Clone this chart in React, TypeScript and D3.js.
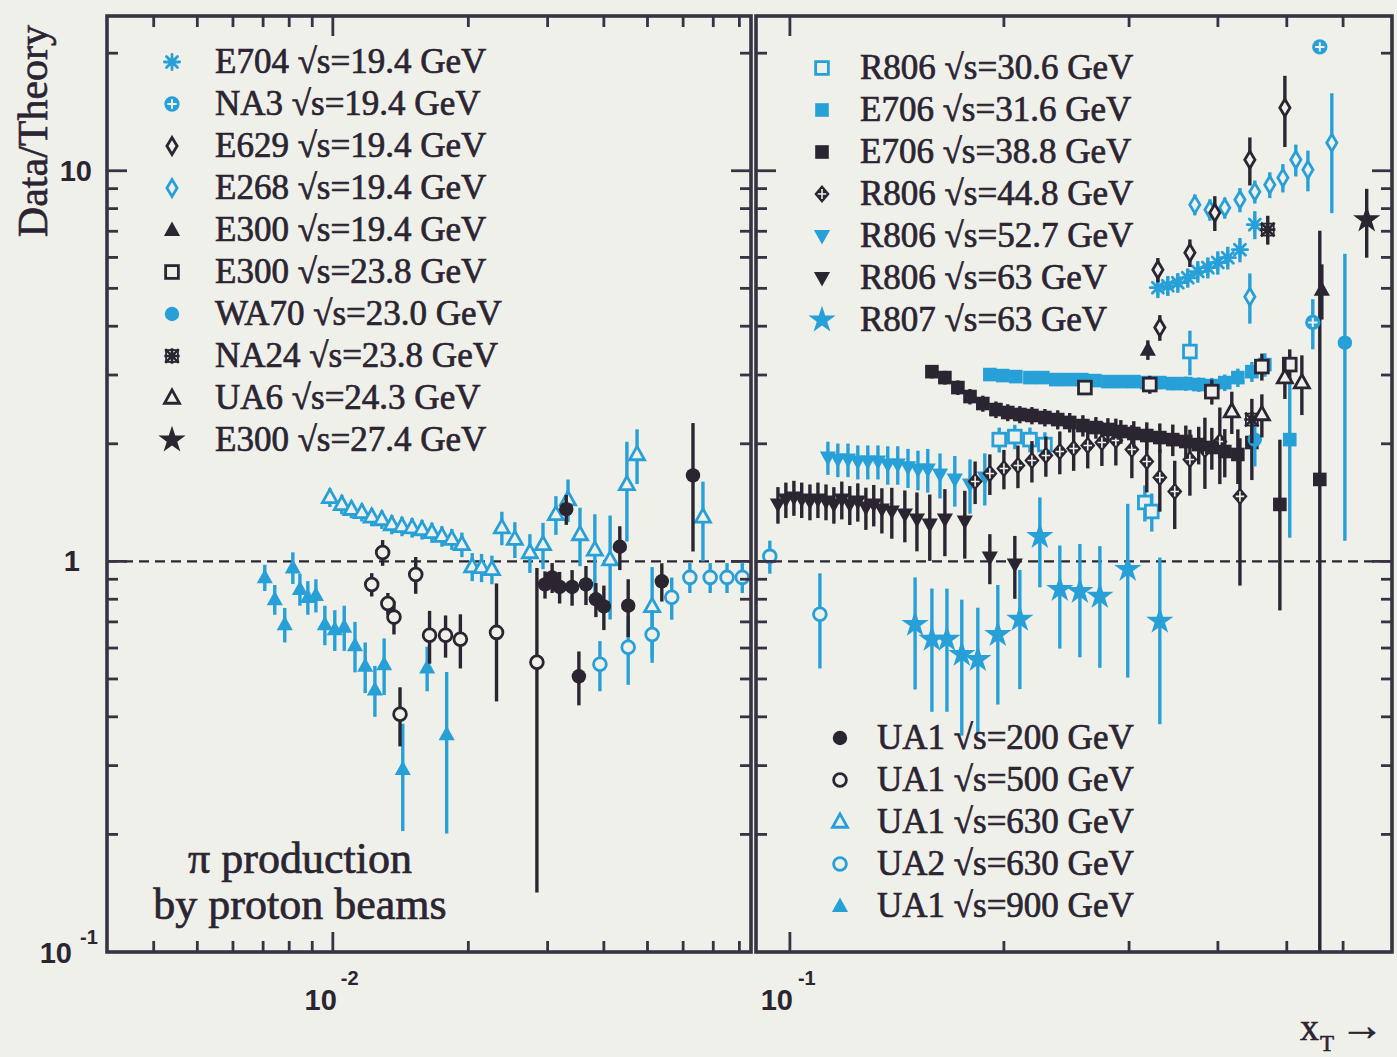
import React from "react";
import * as d3 from "d3";

const CYAN = "#27a0d8";
const DARK = "#2b2532";
const FRAME = "#383243";
const BG = "#f0f0ea";
const SERIF = "'Liberation Serif', 'DejaVu Serif', serif";
const SANS = "'Liberation Sans', Arial, sans-serif";

// Each point: [x_T, Data/Theory, ± error]
const ua1_900 = [[0.00706,0.91,0.07],[0.00743,0.8,0.07],[0.00782,0.69,0.07],[0.00815,0.965,0.09],[0.00845,0.85,0.08],[0.0088,0.81,0.08],[0.00917,0.82,0.08],[0.0096,0.69,0.08],[0.0101,0.67,0.08],[0.0106,0.68,0.09],[0.0112,0.61,0.09],[0.0118,0.54,0.08],[0.0124,0.47,0.07],[0.013,0.545,0.09],[0.0143,0.294,0.09],[0.0162,0.535,0.07],[0.0179,0.361,0.16]];
const ua1_630 = [[0.00985,1.458,0.08],[0.01047,1.4,0.08],[0.011,1.36,0.07],[0.0116,1.335,0.07],[0.0122,1.3,0.07],[0.01285,1.28,0.07],[0.01352,1.243,0.07],[0.01424,1.23,0.07],[0.015,1.22,0.07],[0.01578,1.207,0.07],[0.0166,1.186,0.07],[0.01747,1.16,0.07],[0.01838,1.14,0.07],[0.01935,1.105,0.08],[0.0204,0.97,0.08],[0.0214,0.965,0.08],[0.02256,0.954,0.08],[0.02374,1.22,0.12],[0.02537,1.14,0.12],[0.0274,1.054,0.12],[0.0293,1.105,0.15],[0.0313,1.319,0.15],[0.0333,1.44,0.18],[0.0354,1.172,0.2],[0.0382,1.07,0.25],[0.0413,1.01,0.3],[0.045,1.574,0.45],[0.0474,1.878,0.3],[0.0512,0.767,0.2],[0.0664,1.3,0.3]];
const ua2_630 = [[0.0392,0.545,0.08],[0.0453,0.603,0.12],[0.0512,0.65,0.1],[0.0566,0.809,0.1],[0.0621,0.91,0.08],[0.0689,0.91,0.08],[0.0751,0.91,0.08],[0.0812,0.91,0.08],[0.0937,1.03,0.1],[0.1102,0.732,0.2]];
const ua1_500 = [[0.0122,0.873,0.06],[0.0129,1.054,0.08],[0.01325,0.78,0.05],[0.01367,0.72,0.07],[0.0141,0.406,0.07],[0.01528,0.926,0.1],[0.0164,0.647,0.1],[0.0178,0.647,0.08],[0.0192,0.632,0.1],[0.0231,0.658,0.22],[0.0284,0.552,0.41]];
const ua1_200 = [[0.0296,0.873,0.07],[0.0307,0.91,0.08],[0.0319,0.86,0.08],[0.033,1.36,0.12],[0.034,0.86,0.09],[0.0352,0.508,0.08],[0.0365,0.873,0.1],[0.0384,0.8,0.08],[0.04,0.767,0.1],[0.0434,1.09,0.14],[0.0453,0.77,0.13],[0.0538,0.889,0.1],[0.0631,1.66,0.6]];

const r806_63 = [[0.0962,1.399,0.15],[0.0987,1.441,0.15],[0.1013,1.458,0.15],[0.1039,1.441,0.15],[0.1067,1.424,0.15],[0.1095,1.441,0.15],[0.1124,1.424,0.15],[0.1153,1.399,0.15],[0.1183,1.441,0.16],[0.1214,1.399,0.16],[0.1246,1.424,0.16],[0.1279,1.374,0.17],[0.1312,1.399,0.17],[0.1347,1.359,0.18],[0.1391,1.343,0.2],[0.1451,1.319,0.2],[0.1509,1.281,0.22],[0.1573,1.243,0.24],[0.1652,1.281,0.25],[0.1762,1.266,0.25],[0.1911,1.024,0.15],[0.2072,0.982,0.18]];
const r806_527 = [[0.1131,1.845,0.18],[0.1168,1.823,0.18],[0.1207,1.823,0.18],[0.1246,1.801,0.18],[0.1287,1.801,0.18],[0.133,1.801,0.18],[0.1373,1.771,0.2],[0.1418,1.771,0.2],[0.1466,1.741,0.2],[0.1514,1.72,0.2],[0.1563,1.72,0.22],[0.1626,1.669,0.22],[0.1706,1.621,0.24],[0.1792,1.574,0.25],[0.188,1.64,0.25]];
const r807_63 = [[0.15,0.69,0.22],[0.1584,0.632,0.22],[0.1663,0.632,0.22],[0.1745,0.578,0.22],[0.1838,0.561,0.2],[0.1961,0.65,0.22],[0.2106,0.711,0.24],[0.2247,1.158,0.3],[0.2397,0.848,0.25],[0.2558,0.838,0.27],[0.2729,0.814,0.28],[0.2987,0.954,0.45],[0.3314,0.703,0.32]];
const r806_448 = [[0.1822,1.602,0.2],[0.1911,1.679,0.2],[0.2,1.729,0.2],[0.2093,1.76,0.22],[0.219,1.812,0.22],[0.2291,1.867,0.22],[0.2397,1.911,0.24],[0.2507,1.945,0.24],[0.2624,1.98,0.25],[0.2747,2.015,0.26],[0.2874,2.04,0.28],[0.3027,1.933,0.3],[0.3177,1.802,0.3],[0.3314,1.64,0.3],[0.3478,1.51,0.3],[0.3653,1.823,0.35],[0.3835,1.933,0.4],[0.4025,2.027,0.45],[0.4296,1.467,0.6]];
const e706_388 = [[0.1584,3.06,0.12],[0.1652,2.955,0.12],[0.1723,2.786,0.12],[0.1792,2.642,0.12],[0.1868,2.536,0.12],[0.1949,2.447,0.12],[0.2025,2.405,0.12],[0.2106,2.377,0.12],[0.219,2.363,0.12],[0.2284,2.335,0.12],[0.2381,2.307,0.13],[0.2475,2.268,0.13],[0.2583,2.227,0.14],[0.2694,2.201,0.14],[0.2801,2.176,0.15],[0.2921,2.15,0.15],[0.3046,2.125,0.16],[0.3177,2.1,0.17],[0.3314,2.075,0.18],[0.3456,2.05,0.19],[0.3605,2.027,0.2],[0.3759,1.991,0.22],[0.3922,1.957,0.24],[0.409,1.911,0.27],[0.4267,1.878,0.3],[0.4465,2.015,0.4],[0.4889,1.399,0.65],[0.5564,1.621,5.4]];
const e706_316 = [[0.1911,3.008,0.1],[0.1993,2.99,0.1],[0.2079,2.972,0.1],[0.2176,2.955,0.1],[0.2269,2.955,0.1],[0.2366,2.92,0.1],[0.2468,2.92,0.1],[0.2574,2.92,0.1],[0.2685,2.903,0.1],[0.2801,2.886,0.1],[0.2921,2.886,0.1],[0.3046,2.886,0.1],[0.3177,2.869,0.1],[0.3314,2.869,0.11],[0.3456,2.852,0.11],[0.3605,2.852,0.12],[0.3759,2.836,0.12],[0.3922,2.819,0.13],[0.409,2.869,0.14],[0.4267,2.955,0.16],[0.4465,3.06,0.18],[0.4657,3.19,0.22],[0.5048,2.05,0.9]];
const r806_306 = [[0.197,2.05,0.15],[0.2072,2.087,0.15],[0.2176,2.05,0.15],[0.2284,1.991,0.15],[0.3157,1.415,0.15],[0.3229,1.342,0.15],[0.3653,3.445,0.45]];
const e629 = [[0.3293,5.58,0.4],[0.3314,3.97,0.3],[0.3653,6.17,0.5],[0.396,7.81,0.8],[0.4436,10.67,1.5],[0.4969,14.5,3]];
const e268 = [[0.3712,8.19,0.5],[0.3898,7.95,0.5],[0.409,8.04,0.5],[0.4296,8.43,0.6],[0.4508,8.84,0.6],[0.4732,9.21,0.7],[0.4937,9.6,0.8],[0.5148,10.67,1.0],[0.5354,10.06,1.2],[0.5785,11.79,4],[0.4436,4.76,0.7]];
const e704 = [[0.3293,5.02,0.3],[0.3401,5.08,0.3],[0.3513,5.17,0.3],[0.3628,5.32,0.3],[0.3748,5.52,0.35],[0.3872,5.65,0.35],[0.3999,5.82,0.4],[0.413,5.99,0.4],[0.4296,6.28,0.45],[0.4508,7.28,0.6]];
const na3 = [[0.5564,20.75,0.8],[0.5439,4.09,0.6]];
const e300_194 = [[0.3188,3.48,0.2],[0.5601,4.96,0.8]];
const e300_238 = [[0.26,2.786,0.12],[0.3208,2.836,0.15],[0.3922,2.72,0.2],[0.4612,3.153,0.25],[0.5048,3.19,0.3]];
const wa70 = [[0.4508,2.05,0.3],[0.6035,3.63,2.5]];
const na24 = [[0.4701,7.07,0.6],[0.4465,2.307,0.3]];
const ua6 = [[0.4184,2.419,0.3],[0.4612,2.377,0.3],[0.4969,2.955,0.35],[0.525,2.869,0.5]];
const e300_274 = [[0.6477,7.49,1.5]];

const SERIES = {
  e704: { label: "E704 √s=19.4 GeV", color: CYAN, marker: "asterisk", data: e704 },
  na3: { label: "NA3 √s=19.4 GeV", color: CYAN, marker: "circlePlus", data: na3 },
  e629: { label: "E629 √s=19.4 GeV", color: DARK, marker: "diamondOpen", data: e629 },
  e268: { label: "E268 √s=19.4 GeV", color: CYAN, marker: "diamondOpen", data: e268 },
  e300_194: { label: "E300 √s=19.4 GeV", color: DARK, marker: "triUp", data: e300_194 },
  e300_238: { label: "E300 √s=23.8 GeV", color: DARK, marker: "squareOpen", data: e300_238 },
  wa70: { label: "WA70 √s=23.0 GeV", color: CYAN, marker: "circle", data: wa70 },
  na24: { label: "NA24 √s=23.8 GeV", color: DARK, marker: "asteriskBox", data: na24 },
  ua6: { label: "UA6 √s=24.3 GeV", color: DARK, marker: "triUpOpen", data: ua6 },
  e300_274: { label: "E300 √s=27.4 GeV", color: DARK, marker: "star", data: e300_274 },
  r806_306: { label: "R806 √s=30.6 GeV", color: CYAN, marker: "squareOpen", data: r806_306 },
  e706_316: { label: "E706 √s=31.6 GeV", color: CYAN, marker: "square", data: e706_316 },
  e706_388: { label: "E706 √s=38.8 GeV", color: DARK, marker: "square", data: e706_388 },
  r806_448: { label: "R806 √s=44.8 GeV", color: DARK, marker: "diamondCross", data: r806_448 },
  r806_527: { label: "R806 √s=52.7 GeV", color: CYAN, marker: "triDown", data: r806_527 },
  r806_63: { label: "R806 √s=63 GeV", color: DARK, marker: "triDown", data: r806_63 },
  r807_63: { label: "R807 √s=63 GeV", color: CYAN, marker: "star", data: r807_63 },
  ua1_200: { label: "UA1 √s=200 GeV", color: DARK, marker: "circle", data: ua1_200 },
  ua1_500: { label: "UA1 √s=500 GeV", color: DARK, marker: "circleOpen", data: ua1_500 },
  ua1_630: { label: "UA1 √s=630 GeV", color: CYAN, marker: "triUpOpen", data: ua1_630 },
  ua2_630: { label: "UA2 √s=630 GeV", color: CYAN, marker: "circleOpen", data: ua2_630 },
  ua1_900: { label: "UA1 √s=900 GeV", color: CYAN, marker: "triUp", data: ua1_900 },
};

const LEGEND_LEFT = ["e704","na3","e629","e268","e300_194","e300_238","wa70","na24","ua6","e300_274"];
const LEGEND_RIGHT_TOP = ["r806_306","e706_316","e706_388","r806_448","r806_527","r806_63","r807_63"];
const LEGEND_RIGHT_BOTTOM = ["ua1_200","ua1_500","ua1_630","ua2_630","ua1_900"];
const DRAW_ORDER = ["ua1_630","ua1_900","ua2_630","ua1_500","ua1_200","r807_63","r806_527","r806_63","r806_306","e706_316","r806_448","e706_388","e300_238","e704","e268","e629","e300_194","wa70","na24","ua6","na3","e300_274"];

const X_MINOR_LEFT = [0.004,0.005,0.006,0.007,0.008,0.009,0.02,0.03,0.04,0.05,0.06,0.07,0.08];
const X_MAJOR_LEFT = [0.01];
const X_MINOR_RIGHT = [0.2,0.3,0.4,0.5,0.6];
const X_MAJOR_RIGHT = [0.1];
const Y_MINOR = [0.2,0.3,0.4,0.5,0.6,0.7,0.8,0.9,2,3,4,5,6,7,8,9,20];
const Y_MAJOR = [1,10];

const TOP = 16, BOTTOM = 952;
const yScale = d3.scaleLog().domain([0.1, 24.9]).range([BOTTOM, TOP]);
const xLeft = d3.scaleLog().domain([0.00315, 0.0849]).range([107, 751]);
const xRight = d3.scaleLog().domain([0.0896, 0.703]).range([756, 1392]);

const MS = 8.5;

function Marker({ type, x, y, color, s = MS }) {
  const t = `translate(${x},${y})`;
  const sw = 2.8;
  switch (type) {
    case "circle":
      return <circle cx={x} cy={y} r={s * 0.85} fill={color} />;
    case "circleOpen":
      return <circle cx={x} cy={y} r={s * 0.75} fill={BG} stroke={color} strokeWidth={sw} />;
    case "square":
      return <rect x={x - s * 0.8} y={y - s * 0.8} width={s * 1.6} height={s * 1.6} fill={color} />;
    case "squareOpen":
      return <rect x={x - s * 0.75} y={y - s * 0.75} width={s * 1.5} height={s * 1.5} fill={BG} stroke={color} strokeWidth={sw} />;
    case "triUp":
      return <path transform={t} d={`M0,${-s} L${s * 0.95},${s * 0.7} L${-s * 0.95},${s * 0.7}Z`} fill={color} />;
    case "triUpOpen":
      return <path transform={t} d={`M0,${-s * 0.95} L${s * 0.88},${s * 0.62} L${-s * 0.88},${s * 0.62}Z`} fill={BG} stroke={color} strokeWidth={sw} />;
    case "triDown":
      return <path transform={t} d={`M0,${s} L${s * 0.95},${-s * 0.7} L${-s * 0.95},${-s * 0.7}Z`} fill={color} />;
    case "diamondOpen":
      return <path transform={t} d={`M0,${-s} L${s * 0.6},0 L0,${s} L${-s * 0.6},0Z`} fill={BG} stroke={color} strokeWidth={sw} />;
    case "diamondCross":
      return (
        <g transform={t}>
          <path d={`M0,${-s * 1.05} L${s * 0.9},0 L0,${s * 1.05} L${-s * 0.9},0Z`} fill={color} />
          <path d={`M0,${-s * 0.6} V${s * 0.6} M${-s * 0.5},0 H${s * 0.5}`} stroke={BG} strokeWidth={1.6} />
        </g>
      );
    case "star": {
      const p = d3.symbol(d3.symbolStar, s * s * 3.2)();
      return <path transform={t} d={p} fill={color} />;
    }
    case "asterisk":
      return (
        <g transform={t} stroke={color} strokeWidth={2.8} strokeLinecap="round">
          <path d={`M${-s * 0.9},0 H${s * 0.9} M0,${-s * 0.9} V${s * 0.9} M${-s * 0.65},${-s * 0.65} L${s * 0.65},${s * 0.65} M${-s * 0.65},${s * 0.65} L${s * 0.65},${-s * 0.65}`} />
        </g>
      );
    case "asteriskBox":
      return (
        <g transform={t} stroke={color} strokeWidth={2.6}>
          <path d={`M${-s * 0.8},${-s * 0.8} L${s * 0.8},${s * 0.8} M${-s * 0.8},${s * 0.8} L${s * 0.8},${-s * 0.8} M${-s * 0.9},0 H${s * 0.9} M0,${-s * 0.9} V${s * 0.9}`} />
          <rect x={-s * 0.7} y={-s * 0.7} width={s * 1.4} height={s * 1.4} fill="none" strokeWidth={1.8} />
        </g>
      );
    case "circlePlus":
      return (
        <g transform={t}>
          <circle r={s * 0.9} fill={color} />
          <path d={`M0,${-s * 0.55} V${s * 0.55} M${-s * 0.55},0 H${s * 0.55}`} stroke={BG} strokeWidth={2} />
        </g>
      );
    default:
      return null;
  }
}

function xPos(v) {
  return v <= 0.0849 ? xLeft(v) : xRight(v);
}

function SeriesMarks({ id }) {
  const s = SERIES[id];
  return (
    <g>
      {s.data.map((d, i) => {
        const px = xPos(d[0]);
        const lo = Math.max(d[1] - d[2], 0.05);
        const hi = d[1] + d[2];
        return (
          <line key={"e" + i} x1={px} x2={px} y1={yScale(lo)} y2={yScale(hi)} stroke={s.color} strokeWidth={3.4} />
        );
      })}
      {s.data.map((d, i) => (
        <Marker key={"m" + i} type={s.marker} x={xPos(d[0])} y={yScale(d[1])} color={s.color} />
      ))}
    </g>
  );
}

function Legend({ ids, mx, tx, y0, dy }) {
  return (
    <g>
      {ids.map((id, i) => {
        const s = SERIES[id];
        const cy = y0 + i * dy;
        return (
          <g key={id}>
            <Marker type={s.marker} x={mx} y={cy} color={s.color} />
            <text x={tx} y={cy + 11} fontFamily={SERIF} fontSize={35} fill={DARK} stroke={DARK} strokeWidth={0.7}>
              {s.label}
            </text>
          </g>
        );
      })}
    </g>
  );
}

function PanelFrame({ x0, x1, xs, minor, major }) {
  const ticks = [];
  minor.forEach((v, i) => {
    const px = xs(v);
    ticks.push(<line key={"tm" + i} x1={px} x2={px} y1={TOP} y2={TOP + 11} />);
    ticks.push(<line key={"bm" + i} x1={px} x2={px} y1={BOTTOM} y2={BOTTOM - 11} />);
  });
  major.forEach((v, i) => {
    const px = xs(v);
    ticks.push(<line key={"tM" + i} x1={px} x2={px} y1={TOP} y2={TOP + 20} />);
    ticks.push(<line key={"bM" + i} x1={px} x2={px} y1={BOTTOM} y2={BOTTOM - 20} />);
  });
  Y_MINOR.forEach((v, i) => {
    const py = yScale(v);
    ticks.push(<line key={"lm" + i} x1={x0} x2={x0 + 11} y1={py} y2={py} />);
    ticks.push(<line key={"rm" + i} x1={x1} x2={x1 - 11} y1={py} y2={py} />);
  });
  Y_MAJOR.forEach((v, i) => {
    const py = yScale(v);
    ticks.push(<line key={"lM" + i} x1={x0} x2={x0 + 20} y1={py} y2={py} />);
    ticks.push(<line key={"rM" + i} x1={x1} x2={x1 - 20} y1={py} y2={py} />);
  });
  return (
    <g stroke={FRAME} strokeWidth={2.8}>
      {ticks}
      <rect x={x0} y={TOP} width={x1 - x0} height={BOTTOM - TOP} fill="none" strokeWidth={3.6} />
    </g>
  );
}

export default function App() {
  const [lx0, lx1] = xLeft.range();
  const [rx0, rx1] = xRight.range();
  return (
    <svg width={1397} height={1057} style={{ position: "absolute", left: 0, top: 0 }} xmlns="http://www.w3.org/2000/svg">
      <rect x={0} y={0} width={1397} height={1057} fill={BG} />
      <defs>
        <clipPath id="clipL"><rect x={lx0} y={TOP} width={lx1 - lx0} height={BOTTOM - TOP} /></clipPath>
        <clipPath id="clipR"><rect x={rx0} y={TOP} width={rx1 - rx0} height={BOTTOM - TOP} /></clipPath>
      </defs>

      <line x1={lx0} x2={lx1} y1={yScale(1)} y2={yScale(1)} stroke={DARK} strokeWidth={2.4} strokeDasharray="10,6" />
      <line x1={rx0} x2={rx1} y1={yScale(1)} y2={yScale(1)} stroke={DARK} strokeWidth={2.4} strokeDasharray="10,6" />

      <g clipPath="url(#clipL)">
        {DRAW_ORDER.map((id) => (
          <SeriesMarks key={id} id={id} />
        ))}
      </g>
      <g clipPath="url(#clipR)">
        {DRAW_ORDER.map((id) => (
          <SeriesMarks key={id} id={id} />
        ))}
      </g>

      <PanelFrame x0={lx0} x1={lx1} xs={xLeft} minor={X_MINOR_LEFT} major={X_MAJOR_LEFT} />
      <PanelFrame x0={rx0} x1={rx1} xs={xRight} minor={X_MINOR_RIGHT} major={X_MAJOR_RIGHT} />

      <Legend ids={LEGEND_LEFT} mx={172} tx={215} y0={62} dy={42} />
      <Legend ids={LEGEND_RIGHT_TOP} mx={822} tx={860} y0={68} dy={42} />
      <Legend ids={LEGEND_RIGHT_BOTTOM} mx={840} tx={877} y0={738} dy={42} />

      <text x={300} y={873} textAnchor="middle" fontFamily={SERIF} fontSize={44} fill={DARK} stroke={DARK} strokeWidth={0.7}>π production</text>
      <text x={300} y={919} textAnchor="middle" fontFamily={SERIF} fontSize={44} fill={DARK} stroke={DARK} strokeWidth={0.7}>by proton beams</text>

      <g fontFamily={SANS} fontWeight="bold" fill={DARK}>
        <text x={92} y={yScale(10) + 10} fontSize={29} textAnchor="end">10</text>
        <text x={80} y={yScale(1) + 10} fontSize={29} textAnchor="end">1</text>
        <text x={72} y={yScale(0.1) + 11} fontSize={29} textAnchor="end">10</text>
        <text x={80} y={yScale(0.1) - 8} fontSize={20}>-1</text>

        <text x={xLeft(0.01) + 4} y={1010} fontSize={29} textAnchor="end">10</text>
        <text x={xLeft(0.01) + 8} y={985} fontSize={20}>-2</text>
        <text x={xRight(0.1) + 3} y={1010} fontSize={29} textAnchor="end">10</text>
        <text x={xRight(0.1) + 8} y={985} fontSize={20}>-1</text>
      </g>

      <text transform={`translate(47,131) rotate(-90)`} textAnchor="middle" fontFamily={SERIF} fontSize={42} fill={DARK} stroke={DARK} strokeWidth={0.6}>Data/Theory</text>

      <g fontFamily={SERIF} fill={DARK} stroke={DARK} strokeWidth={0.6}>
        <text x={1300} y={1040} fontSize={38}>x</text>
        <text x={1320} y={1051} fontSize={23}>T</text>
        <text x={1340} y={1040} fontSize={44}>→</text>
      </g>
    </svg>
  );
}
